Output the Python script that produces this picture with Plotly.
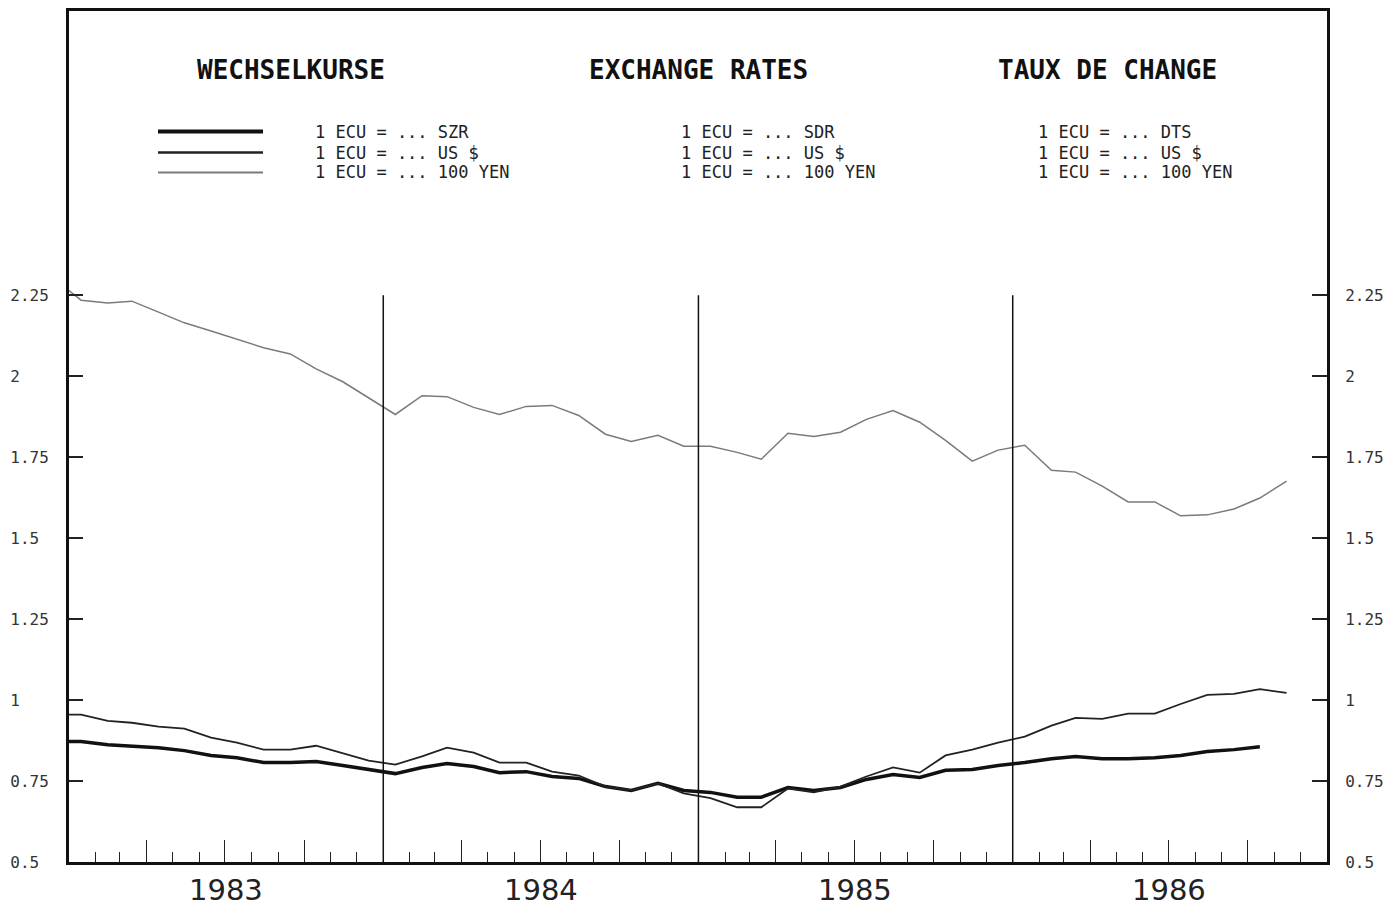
import plotly.graph_objects as go

# Monthly observations (mid-month), Dec 1982 .. Nov 1986
months = [f"{y}-{m:02d}-15" for y in range(1982, 1987) for m in range(1, 13)]
months = months[11:11 + 48]  # Dec 1982 .. Nov 1986

sdr = [0.872, 0.872, 0.862, 0.859, 0.853, 0.844, 0.829, 0.822, 0.807, 0.807, 0.810, 0.798, 0.786,
       0.773, 0.792, 0.804, 0.795, 0.776, 0.779, 0.764, 0.758, 0.733, 0.721, 0.743, 0.721,
       0.715, 0.700, 0.700, 0.730, 0.721, 0.730, 0.755, 0.770, 0.761, 0.783, 0.786, 0.798,
       0.807, 0.819, 0.826, 0.819, 0.819, 0.822, 0.829, 0.841, 0.847, 0.856]

usd = [0.955, 0.955, 0.936, 0.930, 0.918, 0.912, 0.884, 0.869, 0.847, 0.847, 0.859, 0.835, 0.813,
       0.801, 0.826, 0.853, 0.838, 0.807, 0.807, 0.779, 0.767, 0.733, 0.721, 0.743, 0.712,
       0.697, 0.669, 0.669, 0.727, 0.715, 0.733, 0.764, 0.792, 0.776, 0.829, 0.847, 0.869,
       0.887, 0.921, 0.945, 0.942, 0.958, 0.958, 0.988, 1.016, 1.019, 1.034, 1.022]

yen = [2.300, 2.235, 2.226, 2.232, 2.198, 2.165, 2.140, 2.115, 2.088, 2.069, 2.023, 1.983, 1.934,
       1.882, 1.940, 1.937, 1.904, 1.882, 1.907, 1.910, 1.879, 1.821, 1.799, 1.818, 1.784,
       1.784, 1.765, 1.744, 1.824, 1.814, 1.827, 1.867, 1.894, 1.858, 1.802, 1.738, 1.772,
       1.787, 1.710, 1.704, 1.661, 1.612, 1.612, 1.569, 1.572, 1.590, 1.624, 1.676]

years = ["1983", "1984", "1985", "1986"]
year_centers = ["1983-07-02", "1984-07-02", "1985-07-02", "1986-07-02"]
year_bounds = ["1984-01-01", "1985-01-01", "1986-01-01"]
ytick_vals = [0.5, 0.75, 1, 1.25, 1.5, 1.75, 2, 2.25]
ytick_text = ["0.5", "0.75", "1", "1.25", "1.5", "1.75", "2", "2.25"]

titles = ["WECHSELKURSE", "EXCHANGE RATES", "TAUX DE CHANGE"]
legend_cols = [
    ["1 ECU = ... SZR", "1 ECU = ... US $", "1 ECU = ... 100 YEN"],
    ["1 ECU = ... SDR", "1 ECU = ... US $", "1 ECU = ... 100 YEN"],
    ["1 ECU = ... DTS", "1 ECU = ... US $", "1 ECU = ... 100 YEN"],
]

line_styles = [dict(color="#111111", width=3.5), dict(color="#222222", width=1.8),
               dict(color="#7a7a7a", width=1.5)]

fig = go.Figure()
fig.add_trace(go.Scatter(x=months[:len(sdr)], y=sdr, mode="lines", line=line_styles[0], name="SDR"))
fig.add_trace(go.Scatter(x=months[:len(usd)], y=usd, mode="lines", line=line_styles[1], name="US $"))
fig.add_trace(go.Scatter(x=months[:len(yen)], y=yen, mode="lines", line=line_styles[2], name="100 YEN"))
# invisible trace for right axis
fig.add_trace(go.Scatter(x=months[:1], y=[None], yaxis="y2", showlegend=False, hoverinfo="skip"))

YMAX = 3.128
mono = "DejaVu Sans Mono"

pad = lambda s: s + "\u00a0" * (4 - len(s))

# page has an 8px body margin, so the plot area is placed 8px up/left of the target
L, T, PW, PH = 61, 0, 1258, 854

fig.update_layout(
    width=1398, height=910,
    margin=dict(l=L, r=1398 - L - PW, t=T, b=910 - T - PH),
    paper_bgcolor="white", plot_bgcolor="white",
    showlegend=False,
    xaxis=dict(
        type="date", range=["1983-01-01", "1987-01-01"],
        showgrid=False, zeroline=False,
        showline=True, linecolor="#111", linewidth=3, mirror=True,
        tick0="1983-01-01", dtick="M3", ticks="inside", ticklen=22, tickwidth=1.3, tickcolor="#222",
        showticklabels=False,
        minor=dict(dtick="M1", ticks="inside", ticklen=10, tickwidth=1.2, tickcolor="#222", showgrid=False),
    ),
    yaxis=dict(
        range=[0.5, YMAX], showgrid=False, zeroline=False,
        showline=True, linecolor="#111", linewidth=3,
        tickvals=ytick_vals, ticktext=[pad(t) for t in ytick_text],
        ticks="inside", ticklen=14, tickwidth=1.5, tickcolor="#222",
        tickfont=dict(family=mono, size=16, color="#333"),
        ticklabelstandoff=14,
    ),
    yaxis2=dict(
        range=[0.5, YMAX], overlaying="y", side="right", showgrid=False, zeroline=False,
        showline=True, linecolor="#111", linewidth=3,
        tickvals=ytick_vals, ticktext=ytick_text,
        ticks="inside", ticklen=15, tickwidth=1.5, tickcolor="#222",
        tickfont=dict(family=mono, size=16, color="#333"),
        ticklabelstandoff=12,
    ),
)

# year boundary lines
for xb in year_bounds:
    fig.add_shape(type="line", xref="x", yref="y", x0=xb, x1=xb, y0=0.5, y1=2.25,
                  line=dict(color="#111", width=1.5))

def py(pix):
    # screenshot pixel row -> paper fraction
    return (862 - pix) / PH

def px(pix):
    return (pix - 68) / PW

# year labels
for yl, xc in zip(years, year_centers):
    fig.add_annotation(x=xc, xref="x", y=-0.011, yref="paper", text=yl, showarrow=False,
                       yanchor="top", font=dict(family="DejaVu Sans", size=29, color="#222"))

# titles
title_x = [290, 698, 1106]
for t, tx in zip(titles, title_x):
    fig.add_annotation(x=px(tx), xref="paper", y=py(67), yref="paper",
                       text=t, showarrow=False, xanchor="center", yanchor="middle",
                       font=dict(family=mono, size=26, color="#111", weight="bold"))

# legend samples
row_y = [129, 150, 170]
for st, ry in zip(line_styles, row_y):
    fig.add_shape(type="line", xref="paper", yref="paper",
                  x0=px(157), x1=px(262), y0=py(ry), y1=py(ry),
                  line=dict(color=st["color"], width=st["width"] + 0.5))

col_x = [312, 678, 1035]
for col, cx in zip(legend_cols, col_x):
    for txt, ry in zip(col, row_y):
        fig.add_annotation(x=px(cx), xref="paper", y=py(ry), yref="paper",
                           text=txt, showarrow=False, xanchor="left", yanchor="middle",
                           font=dict(family=mono, size=17, color="#222"))

fig.write_html("out.html")
